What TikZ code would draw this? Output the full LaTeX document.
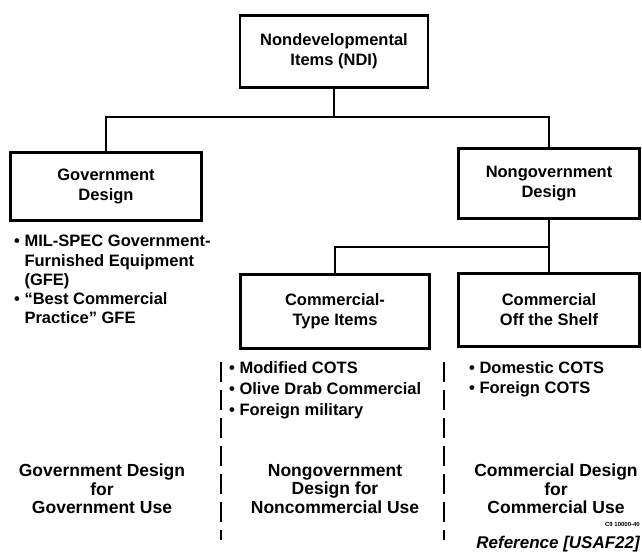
\documentclass[tikz,border=0pt]{standalone}
\usepackage{fontspec}
\setmainfont{Liberation Sans}
\usetikzlibrary{positioning}

\newcommand{\boxfont}{\fontsize{16.5}{20}\selectfont\bfseries}
\newcommand{\listfont}{\fontsize{16.5}{19.3}\selectfont\bfseries}
\newcommand{\labfont}{\fontsize{17.5}{18.5}\selectfont\bfseries}

\begin{document}
\begin{tikzpicture}[x=1pt, y=-1pt,
    blk/.style={draw, line width=2.6pt, align=center, inner sep=0pt, font=\boxfont},
    conn/.style={line width=1.8pt},
    lst/.style={align=left, inner sep=0pt, anchor=north west, font=\listfont},
    lbl/.style={align=center, inner sep=0pt, font=\labfont},
    sep/.style={line width=1.8pt, dash pattern=on 20pt off 8pt}]
  \useasboundingbox (0,0) rectangle (642,555);
  % boxes
  \node[blk, minimum width=188pt, minimum height=72pt] (ndi) at (334,51.5) {Nondevelopmental\\Items (NDI)};
  \node[blk, minimum width=191pt, minimum height=68pt] (gov) at (106,186.5) {Government\\Design};
  \node[blk, minimum width=181pt, minimum height=70pt] (ngov) at (549,183.5) {Nongovernment\\Design};
  \node[blk, minimum width=189pt, minimum height=74pt] (ctype) at (335,311.5) {Commercial-\\Type Items};
  \node[blk, minimum width=181pt, minimum height=73pt] (cots) at (549,310) {Commercial\\Off the Shelf};
  % tree lines
  \draw[conn] (ndi.south) -- ++(0,28) -| (gov.north);
  \draw[conn] (ndi.south) -- ++(0,28) -| (ngov.north);
  \draw[conn] (ngov.south) -- ++(0,27) -| (ctype.north);
  \draw[conn] (ngov.south) -- (cots.north);
  % bullet lists
  \node[lst] (govlist) at (14,235) {• MIL-SPEC Government-\\\phantom{• }Furnished Equipment\\\phantom{• }(GFE)\\• “Best Commercial\\\phantom{• }Practice” GFE};
  \node[lst, font=\fontsize{16.5}{21}\selectfont\bfseries] (ctlist) at (229,361) {• Modified COTS\\• Olive Drab Commercial\\• Foreign military};
  \node[lst, font=\fontsize{16.5}{20}\selectfont\bfseries] (cotslist) at (469,361) {• Domestic COTS\\• Foreign COTS};
  % column separators
  \draw[sep] (221,362) -- (221,540);
  \draw[sep] (444,362) -- (444,540);
  % bottom labels
  \node[lbl] (govuse) at (102,489) {Government Design\\for\\Government Use};
  \node[lbl] (ncuse) at (335,489) {Nongovernment\\Design for\\Noncommercial Use};
  \node[lbl] (cuse) at (556,489) {Commercial Design\\for\\Commercial Use};
  \node[anchor=east, inner sep=0pt, font=\fontsize{6}{6}\selectfont\bfseries] (code) at (640,524) {C9 10000-40};
  \node[anchor=east, inner sep=0pt, font=\fontsize{17}{17}\selectfont\bfseries\itshape] (ref) at (640,544) {Reference [USAF22]};
\end{tikzpicture}
\end{document}
